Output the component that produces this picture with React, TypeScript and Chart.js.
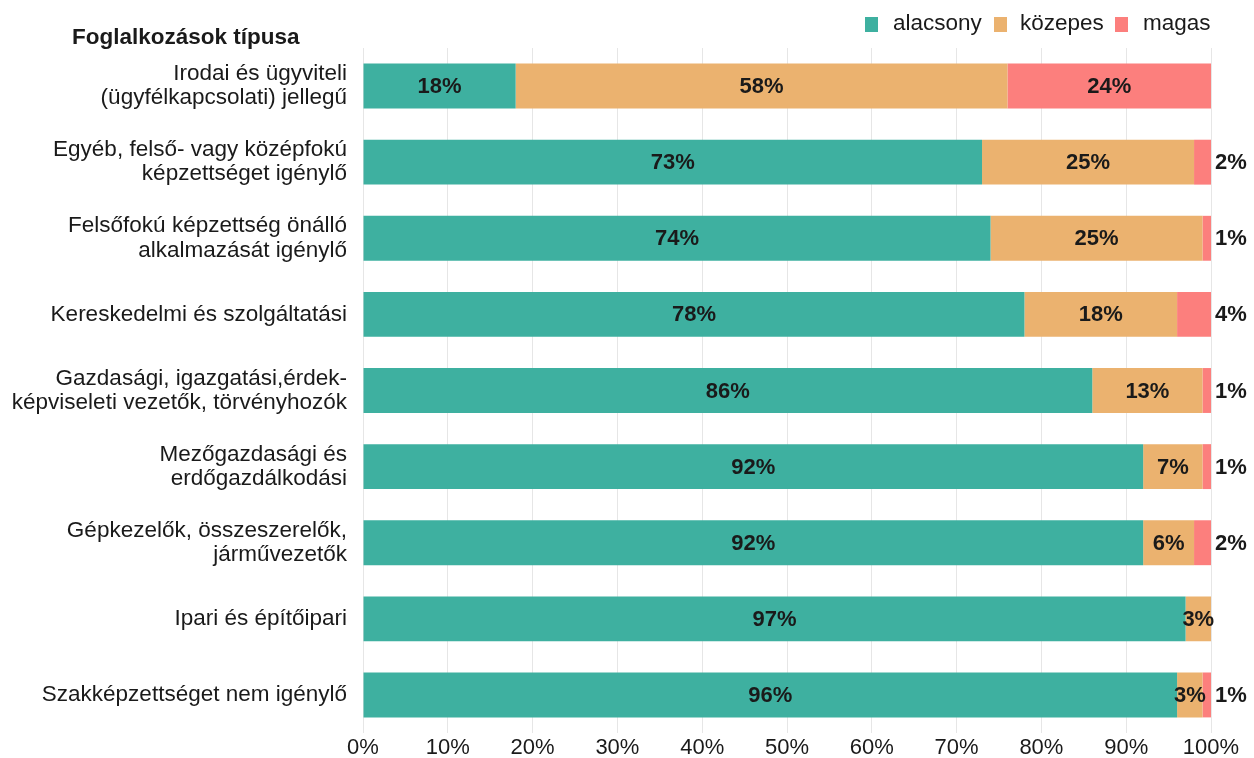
import React, { useEffect, useRef } from "react";
import { Chart, registerables } from "chart.js";

Chart.register(...registerables);

const categories: string[][] = [
  ["Irodai és ügyviteli", "(ügyfélkapcsolati) jellegű"],
  ["Egyéb, felső- vagy középfokú", "képzettséget igénylő"],
  ["Felsőfokú képzettség önálló", "alkalmazását igénylő"],
  ["Kereskedelmi és szolgáltatási"],
  ["Gazdasági, igazgatási,érdek-", "képviseleti vezetők, törvényhozók"],
  ["Mezőgazdasági és", "erdőgazdálkodási"],
  ["Gépkezelők, összeszerelők,", "járművezetők"],
  ["Ipari és építőipari"],
  ["Szakképzettséget nem igénylő"],
];

const alacsony = [18, 73, 74, 78, 86, 92, 92, 97, 96];
const kozepes = [58, 25, 25, 18, 13, 7, 6, 3, 3];
const magas = [24, 2, 1, 4, 1, 1, 2, 0, 1];

const seriesNames = ["alacsony", "közepes", "magas"];
const seriesColors = ["#3EB0A0", "#EBB26F", "#FC7F7D"];
const xTicks = [0, 10, 20, 30, 40, 50, 60, 70, 80, 90, 100];
const axisTitle = "Foglalkozások típusa";

const FONT = "'Liberation Sans', Arial, sans-serif";

const labelsPlugin = {
  id: "customLabels",
  afterDatasetsDraw(chart: any) {
    const ctx = chart.ctx;
    ctx.save();
    ctx.font = `bold 22px ${FONT}`;
    ctx.fillStyle = "#1a1a1a";
    ctx.textBaseline = "middle";
    const xScale = chart.scales.x;
    chart.data.datasets.forEach((ds: any, di: number) => {
      const meta = chart.getDatasetMeta(di);
      meta.data.forEach((bar: any, i: number) => {
        const v = ds.data[i];
        if (!v) return;
        const left = Math.min(bar.x, bar.base);
        const right = Math.max(bar.x, bar.base);
        const txt = v + "%";
        if (di === 2 && v < 5) {
          ctx.textAlign = "left";
          ctx.fillText(txt, xScale.right + 4, bar.y + 1);
        } else {
          ctx.textAlign = "center";
          ctx.fillText(txt, (left + right) / 2, bar.y + 1);
        }
      });
    });
    ctx.restore();
  },
};

const decorPlugin = {
  id: "decor",
  afterDraw(chart: any) {
    const ctx = chart.ctx;
    ctx.save();
    ctx.font = `bold 22.5px ${FONT}`;
    ctx.fillStyle = "#1a1a1a";
    ctx.textAlign = "left";
    ctx.textBaseline = "middle";
    ctx.fillText(axisTitle, 72, 38);
    ctx.font = `22.5px ${FONT}`;
    const entries = [
      { x: 865, tx: 893 },
      { x: 994, tx: 1020 },
      { x: 1115, tx: 1143 },
    ];
    seriesNames.forEach((n, i) => {
      ctx.fillStyle = seriesColors[i];
      ctx.fillRect(entries[i].x, 17, 13, 15);
      ctx.fillStyle = "#1a1a1a";
      ctx.fillText(n, entries[i].tx, 24);
    });
    ctx.restore();
  },
};

export default function App() {
  const ref = useRef<HTMLCanvasElement | null>(null);
  useEffect(() => {
    if (!ref.current) return;
    const values = [alacsony, kozepes, magas];
    const chart = new Chart(ref.current, {
      type: "bar",
      data: {
        labels: categories,
        datasets: seriesNames.map((n, i) => ({
          label: n,
          data: values[i],
          backgroundColor: seriesColors[i],
          borderWidth: 0,
          barPercentage: 0.59,
          categoryPercentage: 1,
        })),
      },
      options: {
        indexAxis: "y",
        animation: false,
        responsive: false,
        maintainAspectRatio: false,
        layout: { padding: { top: 48, right: 43, left: 0, bottom: 0 } },
        plugins: {
          legend: { display: false },
          tooltip: { enabled: false },
          title: { display: false },
        },
        scales: {
          x: {
            stacked: true,
            min: 0,
            max: 100,
            afterBuildTicks(scale: any) {
              scale.ticks = xTicks.map((v) => ({ value: v }));
            },
            afterFit(scale: any) {
              scale.height = 25;
              scale.paddingLeft = 0;
              scale.paddingRight = 0;
            },
            ticks: {
              callback: (v: any) => v + "%",
              font: { family: FONT, size: 22 },
              color: "#1a1a1a",
              padding: 2,
              maxRotation: 0,
            },
            grid: { color: "#E6E6E6", lineWidth: 1, drawTicks: false },
            border: { display: false },
          },
          y: {
            stacked: true,
            afterFit(scale: any) {
              scale.width = 363;
              scale.paddingTop = 0;
              scale.paddingBottom = 0;
            },
            ticks: {
              font: { family: FONT, size: 22.5, lineHeight: 1.07 },
              color: "#1a1a1a",
              padding: 16,
            },
            grid: { display: false, drawTicks: false },
            border: { display: false },
          },
        },
      } as any,
      plugins: [labelsPlugin, decorPlugin],
    });
    return () => chart.destroy();
  }, []);
  return (
    <div style={{ position: "fixed", left: 0, top: 0, width: 1254, height: 758, background: "#fff" }}>
      <canvas ref={ref} width={1254} height={758} style={{ width: 1254, height: 758 }} />
    </div>
  );
}
